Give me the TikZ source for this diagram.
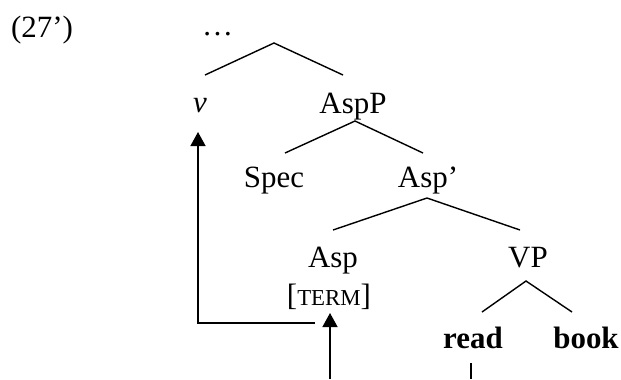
\documentclass[tikz,border=0pt]{standalone}
\usepackage{fontspec}
\setmainfont{Liberation Serif}
\usetikzlibrary{arrows.meta}
\tikzset{
  lbl/.style={anchor=base,inner sep=0pt},
  mv/.style={-{Triangle[width=0.3cm,length=0.28cm]}},
}
\newcommand{\smallcaps}[1]{{\fontsize{13}{15}\selectfont #1}}
\begin{document}
\fontsize{17.6}{21}\selectfont
\begin{tikzpicture}[line width=0.8pt]
\useasboundingbox (0,0) rectangle (12.42,-7.58);
\node[lbl] (ex) at (0.84,-0.74) {(27’)};
\node[lbl] (dots) at (4.35,-0.70) {…};
\coordinate (top) at (5.48,-0.86);
\coordinate (topl) at (4.10,-1.50);
\coordinate (topr) at (6.86,-1.50);
\draw (topl) -- (top) -- (topr);
\node[lbl] (v) at (4.00,-2.24) {\textit{v}};
\node[lbl] (aspp) at (7.06,-2.26) {AspP};
\coordinate (aspptop) at (7.10,-2.42);
\coordinate (asppl) at (5.70,-3.06);
\coordinate (asppr) at (8.46,-3.06);
\draw (asppl) -- (aspptop) -- (asppr);
\node[lbl] (spec) at (5.48,-3.74) {Spec};
\node[lbl] (aspbar) at (8.56,-3.74) {Asp’};
\coordinate (aspbartop) at (8.54,-3.96);
\coordinate (aspbarl) at (6.66,-4.60);
\coordinate (aspbarr) at (10.40,-4.60);
\draw (aspbarl) -- (aspbartop) -- (aspbarr);
\node[lbl] (asp) at (6.66,-5.34) {Asp};
\node[lbl] (term) at (6.58,-6.10) {[\smallcaps{TERM}]};
\node[lbl] (vp) at (10.56,-5.34) {VP};
\coordinate (vptop) at (10.52,-5.62);
\coordinate (vpl) at (9.64,-6.24);
\coordinate (vpr) at (11.44,-6.24);
\draw (vpl) -- (vptop) -- (vpr);
\node[lbl] (read) at (9.46,-6.96) {\textbf{read}};
\node[lbl] (book) at (11.72,-6.96) {\textbf{book}};
% movement
\coordinate (readtop) at (9.42,-7.26);
\coordinate (readbot) at (9.42,-7.58);
\draw (readtop) -- (readbot);
\coordinate (headbot) at (6.60,-7.58);
\coordinate (headtip) at (6.60,-6.26);
\draw[mv] (headbot) -- (headtip);
\coordinate (startv) at (6.30,-6.46);
\coordinate (corner) at (3.96,-6.46);
\coordinate (vtip) at (3.96,-2.64);
\draw[mv] (startv) -- (corner) -- (vtip);
\end{tikzpicture}
\end{document}
